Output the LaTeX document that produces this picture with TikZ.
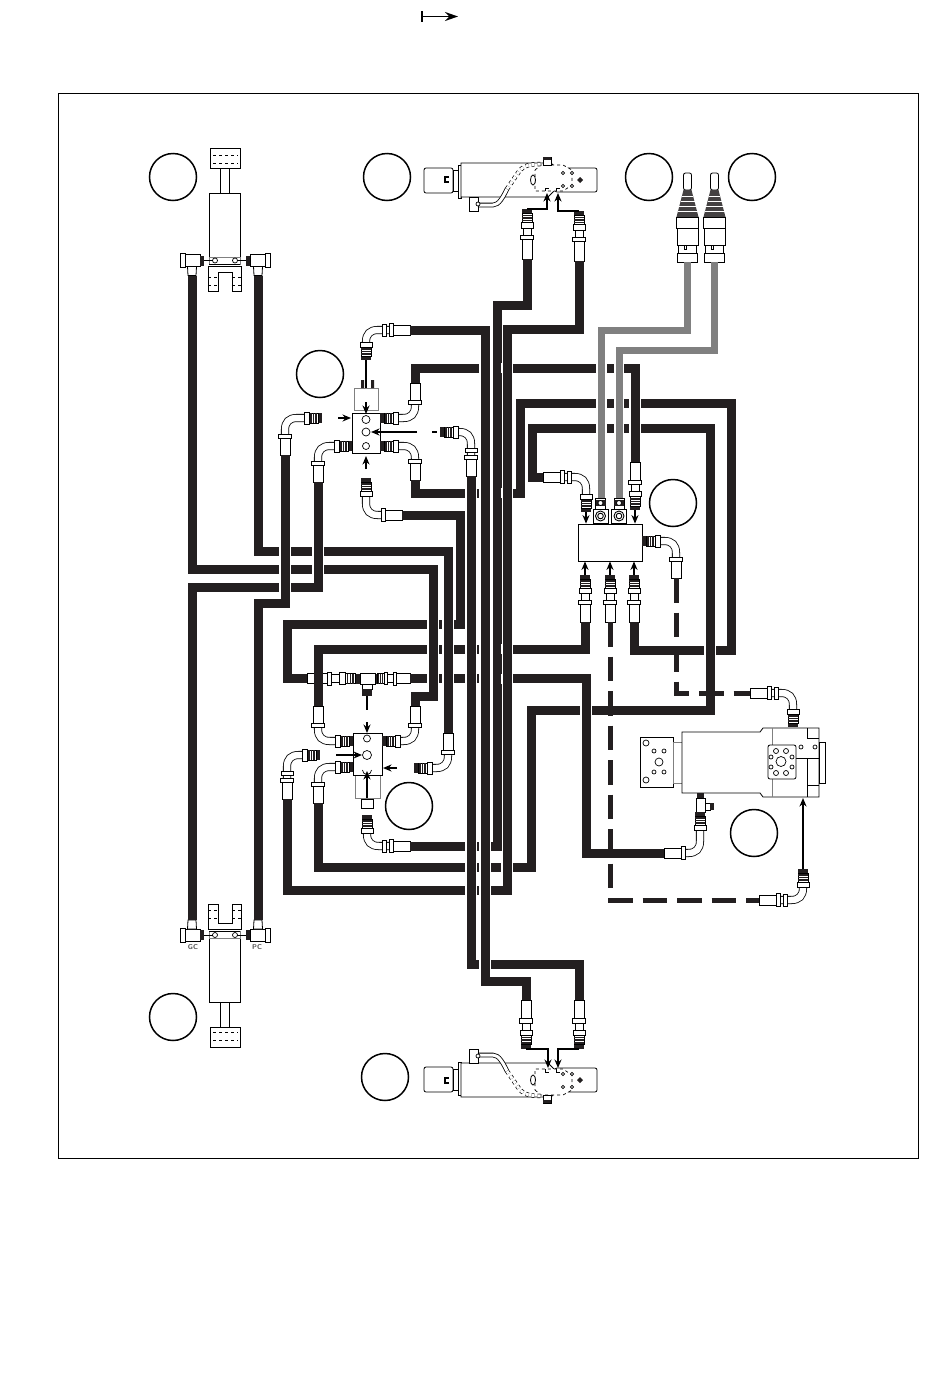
\documentclass[tikz,border=0pt]{standalone}
\usepackage{tikz}
\usetikzlibrary{arrows.meta,
    positioning}

\definecolor{hosecol}{HTML}{231F20}
\definecolor{linecol}{HTML}{808080}

\newcommand{\threads}{%
  \fill[hosecol] (0,-5) rectangle (4,5);
  \draw[part] (4,-5) rectangle (13,5);
  \foreach \p in {6,8.5,11} \draw[hosecol,line width=1.5pt] (\p,-5) -- (\p,5);
  \draw[part] (13,-6) rectangle (18,6);
}

\tikzset{
  part/.style = {draw=black, fill=white, line width=.8pt},
  tube/.style = {draw=black, line width=.8pt, double=white, double distance=6.5pt},
  hole/.style = {draw=black, fill=white, line width=.7pt},
  hose/.style = {draw=hosecol, line width=9pt},
  pics/coupling/.style = {code={
    \threads
    \draw[part] (18,-4) rectangle (25,4);
    \draw[part] (25,-6.5) rectangle (29,6.5);
    \draw[part] (29,-5) rectangle (47,5);
    \coordinate (-port) at (0,0);
    \coordinate (-end) at (47,0);
  }},
  pics/elbowfit/.style args = {#1/#2}{code={
    \draw[tube] (10,0) -- (#1-12,0) .. controls (#1-4,0) and (#1,4) .. (#1,12) -- (#1,#2-20);
    \threads
    \ifnum#2>40 \draw[part] (#1-6,#2-28) rectangle (#1+6,#2-24); \fi
    \draw[part] (#1-6.5,#2-21) rectangle (#1+6.5,#2-17);
    \draw[part] (#1-5,#2-17) rectangle (#1+5,#2);
    \coordinate (-port) at (0,0);
    \coordinate (-end) at (#1,#2);
  }},
  pics/lift/.style = {code={
    \draw[part] (-15,-112) rectangle (15,-92);
    \draw[dashed,line width=.7pt] (-12,-105) -- (13,-105) (-12,-97) -- (13,-97);
    \draw[part] (-4.5,-92) rectangle (4.5,-67.5);
    \draw[part] (-15.5,-67.5) rectangle (15,-3.5);
    \draw[draw=linecol,fill=white,line width=.8pt] (-16,-3.5) rectangle (15,3.5);
    \draw[line width=1pt] (-16,3.5) -- (15,3.5);
    \foreach \s in {-10,10} \draw[hole] (\s,0) circle[radius=2.5];
    \draw[part] (-17,5.5) -- (16,5.5) -- (16,30.5) -- (7,30.5) -- (7,11.5)
      -- (-7,11.5) -- (-7,30.5) -- (-17,30.5) -- cycle;
    \foreach \d in {16.5,24.5}
      \draw[dashed,line width=.7pt] (-17,\d) -- (-7,\d) (7,\d) -- (16,\d);
    \foreach \s/\n in {1/gc,-1/pc}{
      \begin{scope}[xscale=\s]
        \draw[line width=.7pt] (-21,0) -- (-12,0);
        \draw[part] (-45,-7) rectangle (-40,7);
        \draw[part] (-40,-6) rectangle (-25,6);
        \fill[hosecol] (-25,-5) rectangle (-21,5);
        \draw[part] (-37.5,6) -- (-28.5,6) -- (-29,15) -- (-37,15) -- cycle;
        \coordinate (-\n) at (-33,15);
      \end{scope}
    }
  }},
  pics/valve/.style = {code={
    \draw[part,rounded corners=2pt] (424,-12) rectangle (453,13);
    \draw[line width=1.4pt] (449,-3) -- (445,-3) -- (445,2) -- (449,2);
    \draw[part] (453,-10) rectangle (458,11);
    \draw[part] (458,-15) rectangle (461,18);
    \draw[part,rounded corners=2pt] (555,-12) rectangle (597,12);
    \draw[part] (461,18) -- (461,-17) -- (551,-17) -- (556,-12) -- (556,9) -- (548,17) -- (461,17);
    \draw[dashed,line width=.7pt,fill=white] (535,-10) -- (541,-15) -- (563,-15) -- (572,-10)
      -- (572,5) -- (563,11) -- (535,11) -- cycle;
    \foreach \a/\b in {563/-7,572/-7,563/6,572/6} \draw[hole] (\a,\b) circle[radius=1.7];
    \draw[part] (533,0) ellipse[x radius=2.5,y radius=5];
    \fill[hosecol] (580,-3) -- (583,0) -- (580,3) -- (577,0) -- cycle;
    \foreach \a in {547,558} \draw[line width=.8pt] (\a-2,11) -- (\a-2,8) -- (\a+2,8);
    \draw[tube,double distance=3pt] (478,25) -- (493,25) .. controls (499,25) and (503,17) .. (507,9);
    \draw[dashed,line width=.7pt,double=white,double distance=3pt] (507,9) -- (520,-10)
      .. controls (525,-15) and (530,-16) .. (543,-16);
    \draw[part] (469,17) rectangle (478,31);
    \draw[hole] (478,24) circle[radius=2];
    \draw[part] (543,-23) rectangle (551,-15);
    \fill[hosecol] (543,-23) rectangle (551,-20);
  }},
  pics/joystick/.style = {code={
    \draw[part,rounded corners=2pt] (-4,13) rectangle (4,30);
    \fill[hosecol!85] (-4,30) -- (4,30) -- (11,57) -- (-11,57) -- cycle;
    \foreach \d/\w in {36/5.5,41/7,46/8.5,51/10} \draw[white,line width=.4pt] (-\w,\d) -- (\w,\d);
    \draw[part] (-11,57) rectangle (11,68);
    \draw[part] (-10.5,68) rectangle (10.5,85);
    \draw[part] (-9,85) rectangle (9,93);
    \draw[part] (-10,93) rectangle (10,102);
    \draw[line width=.6pt] (-3,89) rectangle (-1,85);
    \coordinate (-end) at (0,102);
  }},
  pics/solenoid/.style = {code={
    \draw[part] (-5,-18) rectangle (5,-7);
    \fill[hosecol] (-5,-16) rectangle (5,-10);
    \draw[hole] (0,-13) circle[radius=2.5];
    \draw[part] (-7.5,-7) rectangle (7.5,7);
    \draw[hole,line width=.9pt] (0,0) circle[radius=5];
    \draw[hole,line width=.9pt] (0,0) circle[radius=2.8];
    \coordinate (-end) at (0,-18);
  }}
}

\begin{document}
\begin{tikzpicture}[x=1pt,y=-1pt,
                  balloon/.style = {draw, circle, line width=1.5pt, inner sep=0pt, minimum size=47pt},
                  block/.style = {draw, fill=white, inner sep=0pt, line width=.8pt},
                  soft/.style = {draw=linecol, fill=white, inner sep=0pt, line width=1pt},
                  arr/.style = {-{Stealth[length=8.5pt,width=7pt]}, line width=1.5pt},
                  tag/.style = {font=\sffamily\bfseries\fontsize{7}{8}\selectfont, text=black!70, inner sep=0pt},
                  dash hose/.style = {draw=hosecol, line width=5pt, dash pattern=on 24.5pt off 10pt}
                  ]
\useasboundingbox (0,0) rectangle (950,1379);
\draw[line width=.8pt] (58,93) rectangle (918,1158);

% heading arrow
\coordinate (headA) at (422,16.5);
\coordinate (headB) at (458,16.5);
\draw[line width=1.8pt] (422,11) -- (422,22);
\draw[-{Stealth[length=13pt,width=9pt]}, line width=1.8pt] (headA) -- (headB);

% balloons
\foreach \i/\a/\b in {1/173/177, 2/387/177, 3/649/177, 4/752/177, 5/320/374,
                      6/673/503, 7/409/806, 8/754/833, 9/173/1017, 10/385/1077}
  \node[balloon] (call\i) at (\a,\b) {};

% lift cylinders
\pic (liftup) at (225,260.5) {lift};
\pic (liftdn) [yscale=-1] at (225,935) {lift};
\node[tag] (gcl) at (193,947) {GC};
\node[tag] (pcl) at (257,947) {PC};

% steering valves
\pic (vup) at (0,180) {valve};
\pic (vdn) [yscale=-1] at (0,1080) {valve};
\pic (vuL) [rotate=-90,xscale=50/47] at (527,209) {coupling};
\pic (vuR) [rotate=-90,xscale=50/47] at (579,211) {coupling};
\pic (vdL) [rotate=90,xscale=49/47] at (526,1049) {coupling};
\pic (vdR) [rotate=90,xscale=49/47] at (579,1049) {coupling};
\draw[arr] (vuL-port) -| (547,193);
\draw[arr] (vuR-port) -| (558,193);
\draw[arr] (vdL-port) -| (548,1068);
\draw[arr] (vdR-port) -| (558,1068);

% upper block
\node[soft, minimum width=24pt, minimum height=22pt] (ubc) at (366,399) {};
\node[block, minimum width=28pt, minimum height=40pt] (ub) at (366,433) {};
\foreach \a/\r in {419.5/4, 432/4, 446/3.5} \draw[hole] (366,\a) circle[radius=\r];
\pic (ubT) [rotate=90] at (366,360) {elbowfit=30/44};
\pic (ubUR) [yscale=-1] at (380,418) {elbowfit=35/35};
\pic (ubLR) at (380,446) {elbowfit=35/34};
\pic (ubLL) [rotate=180,yscale=-1] at (352,446) {elbowfit=34/36};
\pic (ubUL) [rotate=180,yscale=-1] at (322,418) {elbowfit=37/37};
\pic (ubMR) at (440,432) {elbowfit=31/44};
\pic (ubB) [rotate=-90,yscale=-1] at (366,478) {elbowfit=37/36};
\draw[line width=1.4pt] (ubT-port) -- (ubc.north);
\fill[hosecol] (361,380) rectangle (364,388) (371,380) rectangle (374,388);
\draw[arr] (366,402) -- (366,414);
\draw[arr] (338,418) -- (351,418);
\draw[arr] (417,432) -- (371,432);
\draw[arr] (366,469) -- (366,456);
\draw[line width=1.4pt] (432,432) -- (437,432);

% tee
\pic (tL) [rotate=180,xscale=53/47] at (360,678.5) {coupling};
\pic (tR) [xscale=36/47] at (374,678.5) {coupling};
\draw[part] (360,673) rectangle (375,684);
\draw[part] (362,684) rectangle (372,689);
\fill[hosecol] (362,689) rectangle (372,696);
\draw[line width=1.4pt] (367,696) -- (367,710);

% lower block
\node[soft, minimum width=25pt, minimum height=23pt] (lbc) at (367.5,786.5) {};
\node[block, minimum width=29pt, minimum height=42pt] (lb) at (367.5,754) {};
\draw[hole] (367,738.5) circle[radius=3.5];
\draw[hole] (367,755) circle[radius=4.5];
\draw[line width=.7pt] (362.5,770) arc[start angle=180,end angle=0,radius=4.5];
\draw[part] (361,799) rectangle (373,808);
\pic (lbUL) [rotate=180] at (353,741) {elbowfit=35/35};
\pic (lbUR) [yscale=-1] at (382,741) {elbowfit=33/35};
\pic (lbLL) [rotate=180,yscale=-1] at (353,767) {elbowfit=35/36};
\pic (lbML) [rotate=180,yscale=-1] at (320,755) {elbowfit=33/44};
\pic (lbLR) [yscale=-1] at (414,768) {elbowfit=34/35};
\pic (lbB) [rotate=-90,yscale=-1] at (367,815) {elbowfit=31/43};
\draw[arr] (367,722) -- (367,733);
\draw[arr] (336,755) -- (362,755);
\draw[arr] (397,768) -- (383,768);
\draw[arr] (367,798) -- (367,771);

% controller
\node[block, minimum width=64pt, minimum height=37pt] (ctrl) at (610,542.5) {};
\pic (solA) at (600.5,516) {solenoid};
\pic (solB) at (619,516) {solenoid};
\pic (cTL) [rotate=90,yscale=-1] at (586,512) {elbowfit=35/43};
\pic (cTR) [rotate=90,xscale=48/47] at (635,510) {coupling};
\pic (cBL) [rotate=-90] at (585,575) {coupling};
\pic (cBM) [rotate=-90] at (610,575) {coupling};
\pic (cBR) [rotate=-90] at (634,575) {coupling};
\pic (cR) at (642,541) {elbowfit=34/37};
\foreach \n in {cBL,cBM,cBR}
  \draw[arr] (\n-port) -- (\n-port |- ctrl.south);
\foreach \n in {cTL,cTR}
  \draw[arr] (\n-port) -- (\n-port |- ctrl.north);

% motor
\draw[part] (640,737) rectangle (673,787);
\draw[draw=linecol,fill=white,line width=.8pt] (673,742) rectangle (682,783);
\draw[part] (682,732) -- (760,732) -- (763,728) -- (819,728) -- (819,797) -- (763,797) -- (760,793) -- (682,793) -- cycle;
\draw[part] (819,742) rectangle (825,783);
\draw[linecol,line width=.8pt] (772,728) -- (772,797);
\draw[line width=.7pt] (807,728) -- (807,738) -- (819,738);
\draw[line width=.7pt] (796,758) -- (807,758) -- (819,758) (807,758) -- (807,797) (807,785) -- (819,785);
\draw[part,rounded corners=2pt] (768,745) rectangle (796,779);
\draw[hole] (781,761.5) circle[radius=5];
\foreach \a/\b in {776/751, 786/751, 776/773, 786/773} \draw[hole] (\a,\b) circle[radius=2.5];
\foreach \a/\b in {771/757, 792/757, 771/767, 792/767, 801/747, 815/747} \draw[hole] (\a,\b) circle[radius=2];
\foreach \a/\b in {646/743, 646/780} \draw[hole] (\a,\b) circle[radius=3];
\foreach \a/\b in {654/751, 664/751, 654/772, 664/772} \draw[hole] (\a,\b) circle[radius=2];
\draw[hole] (659,762) circle[radius=4];
\fill[hosecol] (697,793) rectangle (704,798);
\draw[part] (696,798) rectangle (705,812);
\draw[part] (705,803) rectangle (710,810);
\fill[hosecol] (710,803) rectangle (714,810);
\pic (mB) [rotate=-90] at (700,812) {elbowfit=41/36};
\pic (mT) [rotate=90,yscale=-1] at (793,727) {elbowfit=34/43};
\pic (mA) [rotate=-90] at (803,869) {elbowfit=31/44};
\draw[arr] (mA-port) -- (803,798);

% joysticks
\pic (jsL) at (687.5,160) {joystick};
\pic (jsR) at (714.5,160) {joystick};

% solid hoses
\draw[hose] (liftup-gc) -- (192,569) -- (433,569) -- (433,696) -- (415,696) -- (lbUR-end);
\draw[hose] (liftup-pc) -- (258,551) -- (448,551) -- (lbLR-end);
\draw[hose] (ubLL-end) -- (318,587.5) -- (192,587.5) -- (liftdn-gc);
\draw[hose] (ubUL-end) -- (285,603) -- (258,603) -- (liftdn-pc);
\draw[hose] (ubB-end) -- (460,515) -- (460,624.5) -- (287,624.5) -- (287,678.5) -- (tL-end);
\draw[hose] (ubMR-end) -- (471,964) -- (579,964) -- (vdR-end);
\draw[hose] (ubT-end) -- (485,330) -- (485,981) -- (526,981) -- (vdL-end);
\draw[hose] (vuL-end) -- (527,305) -- (497,305) -- (497,846) -- (lbB-end);
\draw[hose] (vuR-end) -- (579,329.5) -- (507,329.5) -- (507,890) -- (287,890) -- (lbML-end);
\draw[hose] (ubUR-end) -- (415,368) -- (635,368) -- (cTR-end);
\draw[hose] (ubLR-end) -- (415,493) -- (520,493) -- (520,403) -- (731,403) -- (731,650) -- (634,650) -- (cBR-end);
\draw[hose] (cTL-end) -- (532,477) -- (532,428) -- (710,428) -- (710,710) -- (531,710) -- (531,867.5) -- (318,867.5) -- (lbLL-end);
\draw[hose] (lbUL-end) -- (318,649) -- (585,649) -- (cBL-end);
\draw[hose] (tR-end) -- (586,678.5) -- (586,853) -- (mB-end);

% gaps where the upright run passes in front
\foreach \a/\list in {551/{285,318}, 569/{285,318}, 587.5/{285},
                      624.5/{433,448}, 649/{433,448,471,485,497,507},
                      678.5/{433,448,471,485,497,507}, 368/{485,497,507},
                      493/{471,485,497,507}, 846/{471,485},
                      867.5/{471,485,507}, 890/{471,485},
                      964/{485}, 710/{586}, 650/{710}, 403/{635}, 428/{635}}
  \foreach \b in \list {
    \draw[white,line width=11.5pt] (\b,\a-5) -- (\b,\a+5);
    \draw[hose] (\b,\a-5) -- (\b,\a+5);
  }

% dashed and pilot lines
\draw[dash hose] (cBM-end) -- (610,900) -- (mA-end);
\draw[dash hose] (cR-end) -- (676,693) -- (mT-end);
\draw[draw=linecol,line width=7pt] (jsL-end) -- (687.5,330) -- (601.5,330) -- (601.5,498);
\draw[draw=linecol,line width=7pt] (jsR-end) -- (714.5,350) -- (619,350) -- (solB-end);
\foreach \a in {368,403,428}
  \foreach \b in {601.5,619} {
    \draw[white,line width=10.5pt] (\b,\a-5) -- (\b,\a+5);
    \draw[draw=linecol,line width=7pt] (\b,\a-5) -- (\b,\a+5);
  }
\end{tikzpicture}
\end{document}
